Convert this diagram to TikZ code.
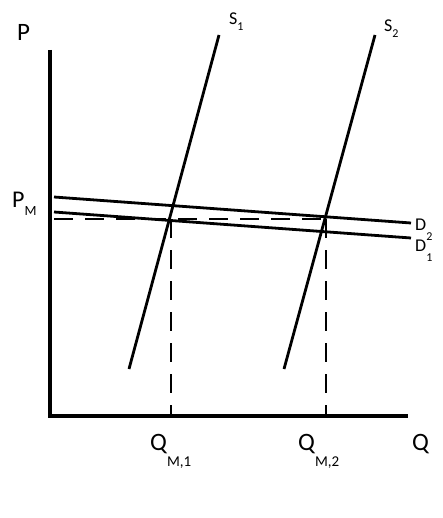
\documentclass[tikz,border=0pt]{standalone}
\usepackage{fontspec}
\setmainfont{Carlito}
\usetikzlibrary{positioning}

\newcommand{\lowsub}[3]{\raisebox{-#1pt}{\fontsize{#2}{#2}\selectfont #3}}

\begin{document}
\begin{tikzpicture}[x=1pt, y=-1pt,
    axis/.style={line width=3.5pt},
    curve/.style={line width=2.8pt},
    guide/.style={line width=1.6pt, dash pattern=on 19pt off 12pt},
    lbl/.style={inner sep=0pt, anchor=base west}]
\useasboundingbox (0,0) rectangle (443,518);

% axes
\coordinate (top) at (50,50);
\coordinate (origin) at (50,416);
\coordinate (right) at (408,416);
\draw[axis] (top) -- (origin) -- (right);

% supply and demand
\coordinate (s1bot) at (129,369);
\coordinate (s1top) at (219,35);
\coordinate (s2bot) at (284,369);
\coordinate (s2top) at (375,35);
\coordinate (d2left) at (54,197);
\coordinate (d2right) at (411,223);
\coordinate (d1left) at (54,212);
\coordinate (d1right) at (411,238);
\draw[curve] (s1bot) -- (s1top);
\draw[curve] (s2bot) -- (s2top);
\draw[curve] (d2left) -- (d2right);
\draw[curve] (d1left) -- (d1right);

% equilibria
\coordinate (pm) at (54,219);
\coordinate (e1) at (171,219);
\coordinate (e2) at (326,219);
\coordinate (q1) at (171,416);
\coordinate (q2) at (326,416);
\draw[guide] (pm) -- (e2);
\draw[guide] (e1) -- (q1);
\draw[guide] (e2) -- (q2);

% labels
\node[lbl] (plab) at (17,41) {\fontsize{25}{25}\selectfont P};
\node[lbl] (qlab) at (412,450) {\fontsize{25}{25}\selectfont Q};
\node[lbl] (pmlab) at (12,208) {\fontsize{24}{24}\selectfont P\lowsub{8}{14}{M}};
\node[lbl] (s1lab) at (229,25) {\fontsize{18}{18}\selectfont S\lowsub{6}{12}{1}};
\node[lbl] (s2lab) at (384,32) {\fontsize{18}{18}\selectfont S\lowsub{6}{12}{2}};
\node[lbl] (d2lab) at (415,230) {\fontsize{18}{18}\selectfont D\lowsub{10}{12}{2}};
\node[lbl] (d1lab) at (415,251) {\fontsize{18}{18}\selectfont D\lowsub{10}{12}{1}};
\node[lbl] (q1lab) at (150,450) {\fontsize{25}{25}\selectfont Q\lowsub{16}{15}{M,1}};
\node[lbl] (q2lab) at (298,450) {\fontsize{25}{25}\selectfont Q\lowsub{16}{15}{M,2}};
\end{tikzpicture}
\end{document}
